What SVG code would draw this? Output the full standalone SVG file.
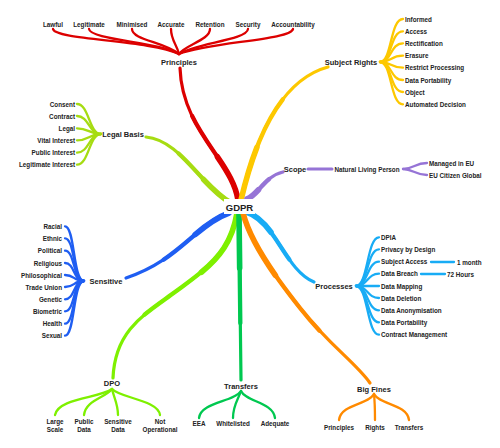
<svg xmlns="http://www.w3.org/2000/svg" width="500" height="448" viewBox="0 0 500 448">
<style>
text{font-family:"Liberation Sans",Arial,sans-serif;font-weight:bold;fill:#222;dominant-baseline:central}
.l{font-size:6.3px}
.b{font-size:7.5px}
.r{font-size:9.5px}
.e{text-anchor:end}
.m{text-anchor:middle}
path{fill:none;stroke-linecap:round}
.t1{stroke-width:3.2}
.t2{stroke-width:4.3;stroke-dasharray:66 200}
.t3{stroke-width:5.6;stroke-dasharray:33 200}
.leaf{stroke-width:2.3}
.red{stroke:#dc0000}.yel{stroke:#fdc800}.lgb{stroke:#a6dc12}.pur{stroke:#9674d6}
.blu{stroke:#1f5ef2}.cya{stroke:#18acf5}.dpo{stroke:#7ef000}.grn{stroke:#00c850}.org{stroke:#ff8a00}
</style>
<defs>
<path id="pr" pathLength="100" d="M238,200 C232,160 182,130 180,68"/>
<path id="sr" pathLength="100" d="M241,200 C255,140 280,80 328,67"/>
<path id="lb" pathLength="100" d="M231,203 C200,185 180,140 146,137"/>
<path id="sc" pathLength="100" d="M247,199 C258,195 265,176 283,172"/>
<path id="se" pathLength="100" d="M229,213 C195,225 180,260 126,278"/>
<path id="ps" pathLength="100" d="M246,212 C275,220 285,270 314,282"/>
<path id="dp" pathLength="100" d="M237,213 C230,255 205,270 175,292 S115,330 113,378"/>
<path id="tr" pathLength="100" d="M239,213 L241,380"/>
<path id="bf" pathLength="100" d="M243,213 C250,240 270,270 300,308 S355,362 370,383"/>
</defs>
<rect width="500" height="448" fill="#fff"/>
<g id="connectors">
<use href="#pr" class="red t1"/><use href="#pr" class="red t2"/><use href="#pr" class="red t3"/>
<use href="#sr" class="yel t1"/><use href="#sr" class="yel t2"/><use href="#sr" class="yel t3"/>
<use href="#lb" class="lgb t1"/><use href="#lb" class="lgb t2"/><use href="#lb" class="lgb t3"/>
<use href="#sc" class="pur t1"/><use href="#sc" class="pur t2"/><use href="#sc" class="pur t3"/>
<use href="#se" class="blu t1"/><use href="#se" class="blu t2"/><use href="#se" class="blu t3"/>
<use href="#ps" class="cya t1"/><use href="#ps" class="cya t2"/><use href="#ps" class="cya t3"/>
<use href="#dp" class="dpo t1"/><use href="#dp" class="dpo t2"/><use href="#dp" class="dpo t3"/>
<use href="#tr" class="grn t1"/><use href="#tr" class="grn t2"/><use href="#tr" class="grn t3"/>
<use href="#bf" class="org t1"/><use href="#bf" class="org t2"/><use href="#bf" class="org t3"/>
<path class="pur" d="M308,169 L332,169" style="stroke-width:3"/>
<!-- principles leaves -->
<path class="leaf red" d="M53,29 C55,40 150,40 179,54"/>
<path class="leaf red" d="M89,29 C90,40 160,42 179,54"/>
<path class="leaf red" d="M132,29 C132,40 165,42 179,54"/>
<path class="leaf red" d="M171,29 C171,40 177,45 179,54"/>
<path class="leaf red" d="M210,29 C210,40 185,45 179,54"/>
<path class="leaf red" d="M248,29 C247,40 195,43 179,54"/>
<path class="leaf red" d="M293,29 C291,40 210,42 179,54"/>
<!-- subject rights leaves -->
<path class="leaf yel" d="M380,62 C392,62 390,19 403,19"/>
<path class="leaf yel" d="M380,62 C392,62 390,31.3 403,31.3"/>
<path class="leaf yel" d="M380,62 C392,62 390,43.3 403,43.3"/>
<path class="leaf yel" d="M380,62 C392,62 390,55.7 403,55.7"/>
<path class="leaf yel" d="M380,62 C392,62 390,67.7 403,67.7"/>
<path class="leaf yel" d="M380,62 C392,62 390,80 403,80"/>
<path class="leaf yel" d="M380,62 C392,62 390,92 403,92"/>
<path class="leaf yel" d="M380,62 C392,62 390,104.3 403,104.3"/>
<!-- legal basis leaves -->
<path class="leaf lgb" d="M101,134 C89,134 89,104 77,104"/>
<path class="leaf lgb" d="M101,134 C89,134 89,116 77,116"/>
<path class="leaf lgb" d="M101,134 C89,134 89,128.3 77,128.3"/>
<path class="leaf lgb" d="M101,134 C89,134 89,140.3 77,140.3"/>
<path class="leaf lgb" d="M101,134 C89,134 89,152.7 77,152.7"/>
<path class="leaf lgb" d="M101,134 C89,134 89,164.7 77,164.7"/>
<!-- scope leaves -->
<path class="leaf pur" d="M403,169 C413,169 415,163 427,163"/>
<path class="leaf pur" d="M403,169 C413,169 415,175 427,175"/>
<!-- sensitive leaves -->
<path class="leaf blu" d="M84,281 C73,281 75,226.3 65,226.3"/>
<path class="leaf blu" d="M84,281 C73,281 75,238.3 65,238.3"/>
<path class="leaf blu" d="M84,281 C73,281 75,250.7 65,250.7"/>
<path class="leaf blu" d="M84,281 C73,281 75,263 65,263"/>
<path class="leaf blu" d="M84,281 C73,281 75,275 65,275"/>
<path class="leaf blu" d="M84,281 C73,281 75,287 65,287"/>
<path class="leaf blu" d="M84,281 C73,281 75,299.3 65,299.3"/>
<path class="leaf blu" d="M84,281 C73,281 75,311.3 65,311.3"/>
<path class="leaf blu" d="M84,281 C73,281 75,323.7 65,323.7"/>
<path class="leaf blu" d="M84,281 C73,281 75,335.7 65,335.7"/>
<!-- processes leaves -->
<path class="leaf cya" d="M356,286 C368,286 367,237.3 379,237.3"/>
<path class="leaf cya" d="M356,286 C368,286 367,249.3 379,249.3"/>
<path class="leaf cya" d="M356,286 C368,286 367,261.7 379,261.7"/>
<path class="leaf cya" d="M356,286 C368,286 367,273.7 379,273.7"/>
<path class="leaf cya" d="M356,286 C368,286 367,286 379,286"/>
<path class="leaf cya" d="M356,286 C368,286 367,298 379,298"/>
<path class="leaf cya" d="M356,286 C368,286 367,310.3 379,310.3"/>
<path class="leaf cya" d="M356,286 C368,286 367,322.3 379,322.3"/>
<path class="leaf cya" d="M356,286 C368,286 367,334.7 379,334.7"/>
<path class="leaf cya" d="M431,262 L454,262"/>
<path class="leaf cya" d="M421,274 L445,274"/>
<!-- dpo leaves -->
<path class="leaf dpo" d="M112,389 C100,398 58,398 55,415"/>
<path class="leaf dpo" d="M112,389 C105,398 86,400 84,415"/>
<path class="leaf dpo" d="M112,389 C114,398 118,404 118,415"/>
<path class="leaf dpo" d="M112,389 C120,398 158,400 160,415"/>
<!-- transfers leaves -->
<path class="leaf grn" d="M241,391 C234,402 201,402 199,418"/>
<path class="leaf grn" d="M241,391 C238,400 233,405 233,418"/>
<path class="leaf grn" d="M241,391 C246,402 273,402 275,418"/>
<!-- big fines leaves -->
<path class="leaf org" d="M374,394 C368,405 341,404 339,420"/>
<path class="leaf org" d="M374,394 C375,404 375,410 375,420"/>
<path class="leaf org" d="M374,394 C380,405 407,404 409,420"/>
</g>
<g id="gdpr"><rect x="224" y="199" width="31" height="15" fill="#fff"/><text class="r m" x="239.5" y="207">GDPR</text></g>
<g id="principles"><text class="b m" x="179" y="62">Principles</text>
<text class="l m" x="53" y="24">Lawful</text><text class="l m" x="89" y="24">Legitimate</text><text class="l m" x="132" y="24">Minimised</text><text class="l m" x="171" y="24">Accurate</text><text class="l m" x="210" y="24">Retention</text><text class="l m" x="248" y="24">Security</text><text class="l m" x="293" y="24">Accountability</text></g>
<g id="subject-rights"><text class="b m" x="351" y="62">Subject Rights</text>
<text class="l" x="405" y="19">Informed</text><text class="l" x="405" y="31.3">Access</text><text class="l" x="405" y="43.3">Rectification</text><text class="l" x="405" y="55.7">Erasure</text><text class="l" x="405" y="67.7">Restrict Processing</text><text class="l" x="405" y="80">Data Portability</text><text class="l" x="405" y="92">Object</text><text class="l" x="405" y="104.3">Automated Decision</text></g>
<g id="legal-basis"><text class="b m" x="123" y="134">Legal Basis</text>
<text class="l e" x="75" y="104">Consent</text><text class="l e" x="75" y="116">Contract</text><text class="l e" x="75" y="128.3">Legal</text><text class="l e" x="75" y="140.3">Vital Interest</text><text class="l e" x="75" y="152.7">Public Interest</text><text class="l e" x="75" y="164.7">Legitimate Interest</text></g>
<g id="scope"><text class="b m" x="295" y="169">Scope</text><text class="l m" x="367" y="169">Natural Living Person</text>
<text class="l" x="429" y="163">Managed in EU</text><text class="l" x="429" y="175">EU Citizen Global</text></g>
<g id="sensitive"><text class="b m" x="106" y="281">Sensitive</text>
<text class="l e" x="62" y="226.3">Racial</text><text class="l e" x="62" y="238.3">Ethnic</text><text class="l e" x="62" y="250.7">Political</text><text class="l e" x="62" y="263">Religious</text><text class="l e" x="62" y="275">Philosophical</text><text class="l e" x="62" y="287">Trade Union</text><text class="l e" x="62" y="299.3">Genetic</text><text class="l e" x="62" y="311.3">Biometric</text><text class="l e" x="62" y="323.7">Health</text><text class="l e" x="62" y="335.7">Sexual</text></g>
<g id="processes"><text class="b m" x="334" y="286">Processes</text>
<text class="l" x="381" y="237.3">DPIA</text><text class="l" x="381" y="249.3">Privacy by Design</text><text class="l" x="381" y="261.7">Subject Access</text><text class="l" x="381" y="273.7">Data Breach</text><text class="l" x="381" y="286">Data Mapping</text><text class="l" x="381" y="298">Data Deletion</text><text class="l" x="381" y="310.3">Data Anonymisation</text><text class="l" x="381" y="322.3">Data Portability</text><text class="l" x="381" y="334.7">Contract Management</text>
<text class="l" x="457" y="262">1 month</text><text class="l" x="447" y="274">72 Hours</text></g>
<g id="dpo"><text class="b m" x="112" y="383">DPO</text>
<text class="l m" x="55" y="421">Large</text><text class="l m" x="55" y="429">Scale</text>
<text class="l m" x="84" y="421">Public</text><text class="l m" x="84" y="429">Data</text>
<text class="l m" x="118" y="421">Sensitive</text><text class="l m" x="118" y="429">Data</text>
<text class="l m" x="160" y="421">Not</text><text class="l m" x="160" y="429">Operational</text></g>
<g id="transfers"><text class="b m" x="241" y="386">Transfers</text>
<text class="l m" x="199" y="423">EEA</text><text class="l m" x="233" y="423">Whitelisted</text><text class="l m" x="275" y="423">Adequate</text></g>
<g id="big-fines"><text class="b m" x="374" y="389">Big Fines</text>
<text class="l m" x="339" y="427">Principles</text><text class="l m" x="375" y="427">Rights</text><text class="l m" x="409" y="427">Transfers</text></g>
</svg>
